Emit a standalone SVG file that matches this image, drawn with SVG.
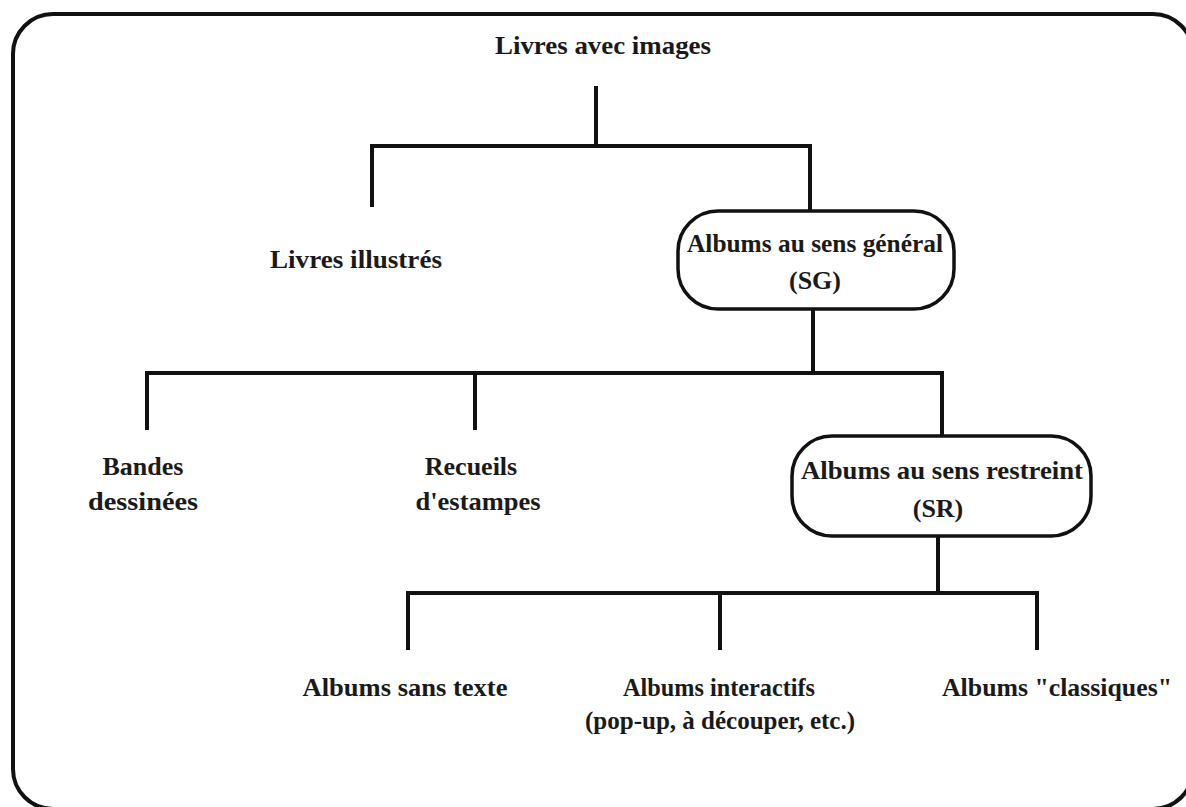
<svg xmlns="http://www.w3.org/2000/svg" width="1186" height="807" viewBox="0 0 1186 807">
<style>
.t{font-family:"Liberation Serif","DejaVu Serif",serif;font-weight:bold;font-size:26px;fill:#1a1a1a;text-anchor:middle}
.ln{stroke:#111;stroke-width:4;fill:none;stroke-linecap:butt}
.box{stroke:#111;stroke-width:3.5;fill:#fff}
</style>
<rect x="0" y="0" width="1186" height="807" fill="#fff"/>
<rect id="frame" x="13" y="14" width="1180" height="795" rx="40" fill="none" stroke="#111" stroke-width="4"/>
<g id="connectors" class="ln">
<path d="M596 86V146"/>
<path d="M372 146H810M372 144V207M810 144V211"/>
<path d="M813 309V373"/>
<path d="M147 373H943M147 371V430M475 371V430M942 371V436"/>
<path d="M938 536V593"/>
<path d="M408 593H1039M408 591V650M720 591V650M1037 591V650"/>
</g>
<g id="n-root"><text class="t" x="603" y="54" textLength="216" lengthAdjust="spacingAndGlyphs">Livres  avec images</text></g>
<g id="n-illustres"><text class="t" x="356" y="268" textLength="172" lengthAdjust="spacingAndGlyphs">Livres  illustrés</text></g>
<g id="n-sg">
<rect class="box" x="678" y="211" width="276" height="98" rx="40"/>
<text class="t" x="815" y="252" textLength="256" lengthAdjust="spacingAndGlyphs">Albums au sens général</text>
<text class="t" x="815" y="289">(SG)</text>
</g>
<g id="n-bd">
<text class="t" x="143" y="475">Bandes</text>
<text class="t" x="143" y="510" textLength="110" lengthAdjust="spacingAndGlyphs">dessinées</text>
</g>
<g id="n-recueils">
<text class="t" x="471" y="475">Recueils</text>
<text class="t" x="478" y="510" textLength="125" lengthAdjust="spacingAndGlyphs">d'estampes</text>
</g>
<g id="n-sr">
<rect class="box" x="792" y="436" width="299" height="100" rx="40"/>
<text class="t" x="942" y="479" textLength="282" lengthAdjust="spacingAndGlyphs">Albums au sens restreint</text>
<text class="t" x="938" y="517">(SR)</text>
</g>
<g id="n-sans"><text class="t" x="405" y="696" textLength="205" lengthAdjust="spacingAndGlyphs">Albums sans texte</text></g>
<g id="n-inter">
<text class="t" x="719" y="696" textLength="192" lengthAdjust="spacingAndGlyphs">Albums interactifs</text>
<text class="t" x="720" y="729" textLength="270" lengthAdjust="spacingAndGlyphs">(pop-up, à  découper, etc.)</text>
</g>
<g id="n-classiques"><text class="t" x="1057" y="696" textLength="230" lengthAdjust="spacingAndGlyphs">Albums "classiques"</text></g>
</svg>
